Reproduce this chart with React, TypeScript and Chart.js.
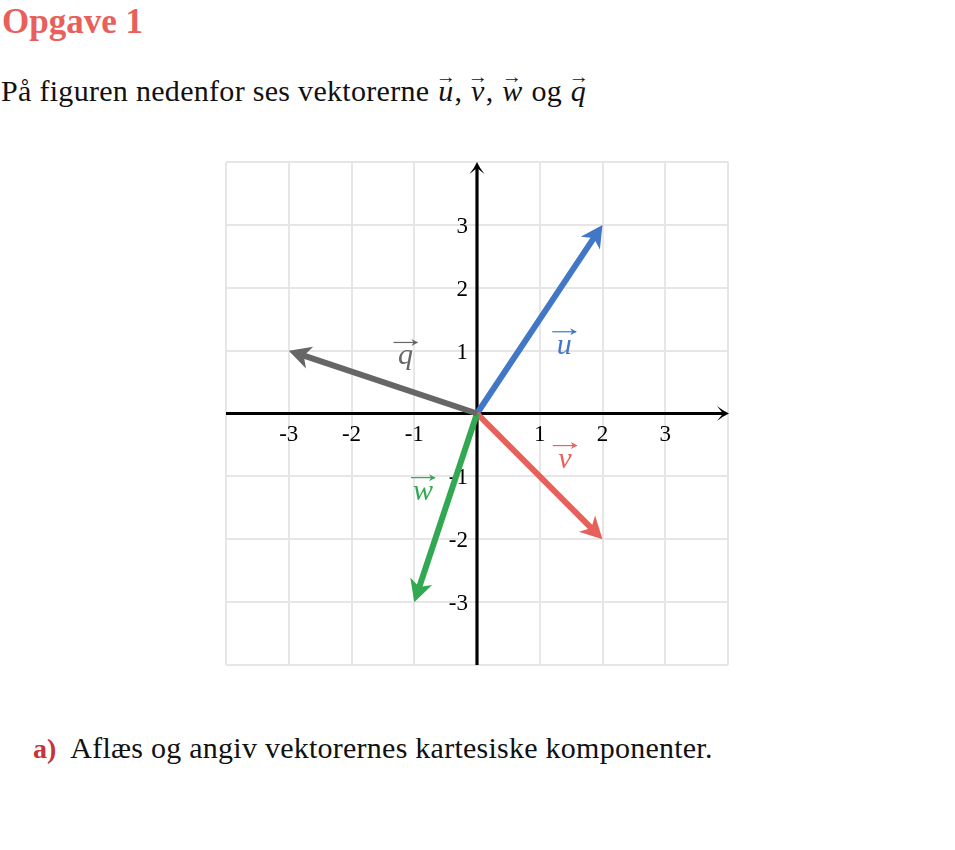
import React, { useEffect, useRef } from "react";
import { Chart, registerables } from "chart.js";

Chart.register(...registerables);

// ---- data ----
const vectorNames = ["u", "v", "w", "q"];
const vectorX = [2, 2, -1, -3];
const vectorY = [3, -2, -3, 1];
const vectorColors = ["#4277c7", "#e8605a", "#33a852", "#666666"];
// label anchor (data coords): centre x, baseline y
const labelX = [1.39, 1.4, -0.86, -1.14];
const labelY = [0.95, -0.86, -1.37, 0.78];
const xTickLabels = [-3, -2, -1, 1, 2, 3];
const yTickLabels = [-3, -2, -1, 1, 2, 3];
const axisMin = -4;
const axisMax = 4;

const SERIF = "'Liberation Serif', 'DejaVu Serif', serif";

function drawArrow(
  ctx: CanvasRenderingContext2D,
  x0: number,
  y0: number,
  x1: number,
  y1: number,
  width: number,
  len: number,
  half: number,
  notchFrac: number,
  color: string,
  curved: boolean
) {
  const dx = x1 - x0;
  const dy = y1 - y0;
  const d = Math.hypot(dx, dy);
  const ux = dx / d;
  const uy = dy / d;
  const px = -uy;
  const py = ux;
  const nx = x1 - ux * len * notchFrac;
  const ny = y1 - uy * len * notchFrac;
  ctx.save();
  ctx.strokeStyle = color;
  ctx.fillStyle = color;
  ctx.lineWidth = width;
  ctx.lineCap = "butt";
  ctx.beginPath();
  ctx.moveTo(x0, y0);
  ctx.lineTo(nx + ux * 1.5, ny + uy * 1.5);
  ctx.stroke();
  const bx = x1 - ux * len;
  const by = y1 - uy * len;
  const b1x = bx + px * half;
  const b1y = by + py * half;
  const b2x = bx - px * half;
  const b2y = by - py * half;
  ctx.beginPath();
  ctx.moveTo(x1, y1);
  if (curved) {
    const c1x = x1 - ux * len * 0.5 + px * half * 0.35;
    const c1y = y1 - uy * len * 0.5 + py * half * 0.35;
    ctx.quadraticCurveTo(c1x, c1y, b1x, b1y);
    ctx.lineTo(nx, ny);
    ctx.lineTo(b2x, b2y);
    const c4x = x1 - ux * len * 0.5 - px * half * 0.35;
    const c4y = y1 - uy * len * 0.5 - py * half * 0.35;
    ctx.quadraticCurveTo(c4x, c4y, x1, y1);
  } else {
    ctx.lineTo(b1x, b1y);
    ctx.lineTo(nx, ny);
    ctx.lineTo(b2x, b2y);
  }
  ctx.closePath();
  ctx.fill();
  ctx.restore();
}

const overlayPlugin = {
  id: "vectorOverlay",
  beforeDatasetsDraw(chart: any) {
    const ctx: CanvasRenderingContext2D = chart.ctx;
    const xs = chart.scales.x;
    const ys = chart.scales.y;
    const ox = xs.getPixelForValue(0);
    const oy = ys.getPixelForValue(0);
    const xl = xs.getPixelForValue(axisMin);
    const xr = xs.getPixelForValue(axisMax);
    const yb = ys.getPixelForValue(axisMin);
    const yt = ys.getPixelForValue(axisMax);
    drawArrow(ctx, xl, oy, xr + 1, oy, 3.2, 12, 7.5, 0.5, "#000", true);
    drawArrow(ctx, ox, yb, ox, yt, 3.2, 12, 7.5, 0.5, "#000", true);

    ctx.save();
    ctx.fillStyle = "#000";
    ctx.font = `23px ${SERIF}`;
    ctx.textBaseline = "alphabetic";
    ctx.textAlign = "center";
    xTickLabels.forEach((t) => {
      ctx.fillText(String(t), xs.getPixelForValue(t), oy + 27);
    });
    ctx.textAlign = "right";
    yTickLabels.forEach((t) => {
      ctx.fillText(String(t), ox - 9, ys.getPixelForValue(t) + 8);
    });
    ctx.restore();
  },
  afterDatasetsDraw(chart: any) {
    const ctx: CanvasRenderingContext2D = chart.ctx;
    const xs = chart.scales.x;
    const ys = chart.scales.y;
    chart.data.datasets.forEach((ds: any, i: number) => {
      const meta = chart.getDatasetMeta(i);
      const p0 = meta.data[0];
      const p1 = meta.data[1];
      drawArrow(ctx, p0.x, p0.y, p1.x, p1.y, 6, 22, 11.5, 0.72, ds.borderColor, false);
    });
    vectorNames.forEach((name, i) => {
      const cx = xs.getPixelForValue(labelX[i]);
      const by = ys.getPixelForValue(labelY[i]);
      const col = vectorColors[i];
      ctx.save();
      ctx.fillStyle = col;
      ctx.strokeStyle = col;
      ctx.font = `italic 30px ${SERIF}`;
      ctx.textAlign = "center";
      ctx.textBaseline = "alphabetic";
      ctx.fillText(name, cx, by);
      const ay = by - 22;
      ctx.lineWidth = 1.2;
      ctx.beginPath();
      ctx.moveTo(cx - 12, ay);
      ctx.lineTo(cx + 12, ay);
      ctx.stroke();
      ctx.beginPath();
      ctx.moveTo(cx + 12.5, ay);
      ctx.lineTo(cx + 6, ay - 3.5);
      ctx.lineTo(cx + 8, ay);
      ctx.lineTo(cx + 6, ay + 3.5);
      ctx.closePath();
      ctx.fill();
      ctx.restore();
    });
  },
};

function Vec({ letter }: { letter: string }) {
  return (
    <span style={{ position: "relative", display: "inline-block", fontStyle: "italic", padding: "0 1px" }}>
      <span
        style={{
          position: "absolute",
          left: "50%",
          top: "-0.42em",
          transform: "translateX(-50%) scaleX(1.1)",
          fontSize: "0.62em",
          fontStyle: "normal",
          lineHeight: 1,
        }}
      >
        →
      </span>
      {letter}
    </span>
  );
}

export default function App() {
  const canvasRef = useRef<HTMLCanvasElement | null>(null);

  useEffect(() => {
    if (!canvasRef.current) return;
    const datasets = vectorNames.map((name, i) => ({
      label: name,
      data: [
        { x: 0, y: 0 },
        { x: vectorX[i], y: vectorY[i] },
      ],
      showLine: false,
      pointRadius: 0,
      borderColor: vectorColors[i],
      backgroundColor: vectorColors[i],
    }));
    const chart = new Chart(canvasRef.current, {
      type: "scatter",
      data: { datasets },
      options: {
        animation: false,
        responsive: false,
        maintainAspectRatio: false,
        layout: { padding: 20 },
        plugins: { legend: { display: false }, tooltip: { enabled: false } },
        scales: {
          x: {
            type: "linear",
            min: axisMin,
            max: axisMax,
            ticks: { display: false, stepSize: 1 },
            grid: { color: "#e6e6e6", lineWidth: 2, drawTicks: false },
            border: { display: false },
          },
          y: {
            type: "linear",
            min: axisMin,
            max: axisMax,
            ticks: { display: false, stepSize: 1 },
            grid: { color: "#e6e6e6", lineWidth: 2, drawTicks: false },
            border: { display: false },
          },
        },
      },
      plugins: [overlayPlugin],
    });
    return () => chart.destroy();
  }, []);

  return (
    <div
      style={{
        position: "absolute",
        left: 0,
        top: 0,
        width: 955,
        height: 850,
        fontFamily: SERIF,
        color: "#111",
      }}
    >
      <div
        style={{
          position: "absolute",
          left: 2,
          top: 4,
          fontSize: 35,
          lineHeight: "35px",
          fontWeight: "bold",
          color: "#e85f5c",
          whiteSpace: "nowrap",
        }}
      >
        Opgave 1
      </div>
      <div
        style={{
          position: "absolute",
          left: 1,
          top: 76,
          fontSize: 30,
          lineHeight: "30px",
          letterSpacing: "0.3px",
          whiteSpace: "nowrap",
        }}
      >
        På figuren nedenfor ses vektorerne <Vec letter="u" />, <Vec letter="v" />, <Vec letter="w" /> og{" "}
        <Vec letter="q" />
      </div>
      <canvas
        ref={canvasRef}
        width={542}
        height={543}
        style={{ position: "absolute", left: 206, top: 142, width: 542, height: 543 }}
      />
      <div
        style={{
          position: "absolute",
          left: 33,
          top: 733,
          fontSize: 30,
          lineHeight: "30px",
          whiteSpace: "nowrap",
        }}
      >
        <span style={{ fontWeight: "bold", color: "#c8323a", fontSize: 28 }}>a)</span>
        <span style={{ marginLeft: 14, letterSpacing: "0.25px" }}>
          Aflæs og angiv vektorernes kartesiske komponenter.
        </span>
      </div>
    </div>
  );
}
